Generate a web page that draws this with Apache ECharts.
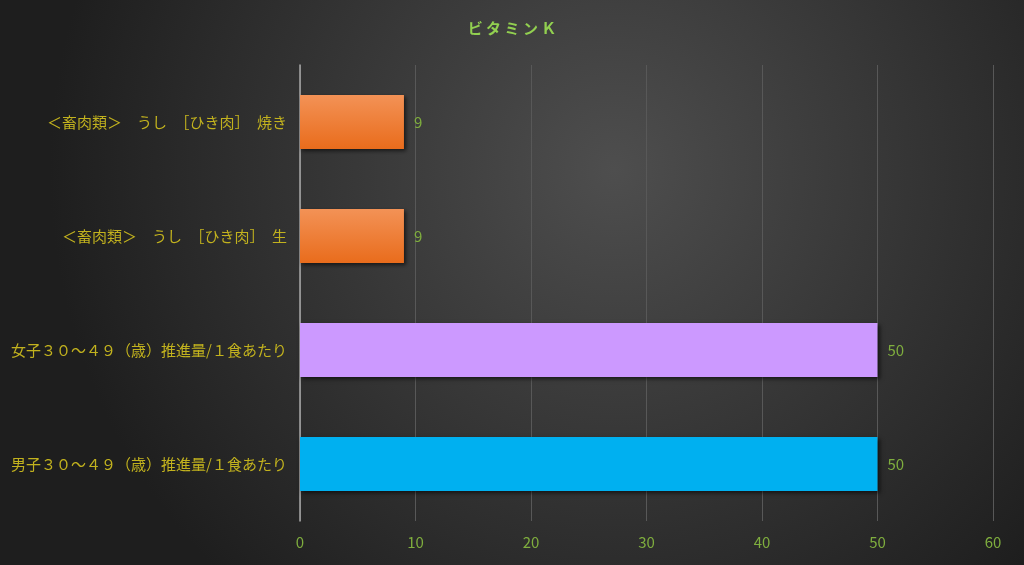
<!DOCTYPE html>
<html><head><meta charset="utf-8">
<script src="https://cdn.jsdelivr.net/npm/echarts@6/dist/echarts.min.js"></script>
<style>html,body{margin:0;padding:0;background:#2a2a2a}#c{width:1024px;height:565px}</style>
</head><body><div id="c"></div>
<script>
const categories = [
  '男子３０～４９（歳）推進量/１食あたり',
  '女子３０～４９（歳）推進量/１食あたり',
  '＜畜肉類＞　うし　［ひき肉］　生',
  '＜畜肉類＞　うし　［ひき肉］　焼き'
];
const values = [50, 50, 9, 9];
const barColors = ['#00B0F0', '#CC99FF', 'orange', 'orange'];
const xTicks = [0, 10, 20, 30, 40, 50, 60];

const orangeGrad = new echarts.graphic.LinearGradient(0, 0, 0, 1, [
  {offset: 0, color: '#F39256'}, {offset: 1, color: '#E96C1C'}
]);
const chart = echarts.init(document.getElementById('c'));
chart.setOption({
  backgroundColor: new echarts.graphic.RadialGradient(0.6, 0.3, 1.0, [
    {offset: 0, color: '#4e4e4e'}, {offset: 1, color: '#1e1e1e'}
  ]),
  title: {
    text: 'ビ タ ミ ン Ｋ', left: 'center', top: 16,
    textStyle: {color: '#92D050', fontSize: 15, fontWeight: 'bold', fontFamily: 'Noto Sans CJK JP'}
  },
  grid: {left: 300, right: 31, top: 65, bottom: 44, containLabel: false},
  xAxis: {
    type: 'value', min: xTicks[0], max: xTicks[xTicks.length - 1], interval: 10,
    axisLine: {show: false}, axisTick: {show: false},
    splitLine: {lineStyle: {color: '#585858', width: 1}},
    axisLabel: {color: '#7FAE3E', fontSize: 15, margin: 14, fontFamily: 'Noto Sans CJK JP'}
  },
  yAxis: {
    type: 'category', data: categories,
    axisLine: {show: true, lineStyle: {color: '#a8a8a8', width: 1.5}},
    axisTick: {show: false},
    axisLabel: {color: '#C2B21E', fontSize: 15, margin: 13, fontFamily: 'Noto Sans CJK JP'}
  },
  series: [{
    type: 'bar', barWidth: 54,
    data: values.map((v, i) => ({
      value: v,
      itemStyle: {
        color: barColors[i] === 'orange' ? orangeGrad : barColors[i],
        shadowColor: 'rgba(0,0,0,0.6)', shadowBlur: 4, shadowOffsetX: 2, shadowOffsetY: 2
      }
    })),
    label: {show: true, position: 'right', distance: 10, color: '#7FAE3E', fontSize: 15, fontFamily: 'Noto Sans CJK JP'}
  }]
});
</script></body></html>
